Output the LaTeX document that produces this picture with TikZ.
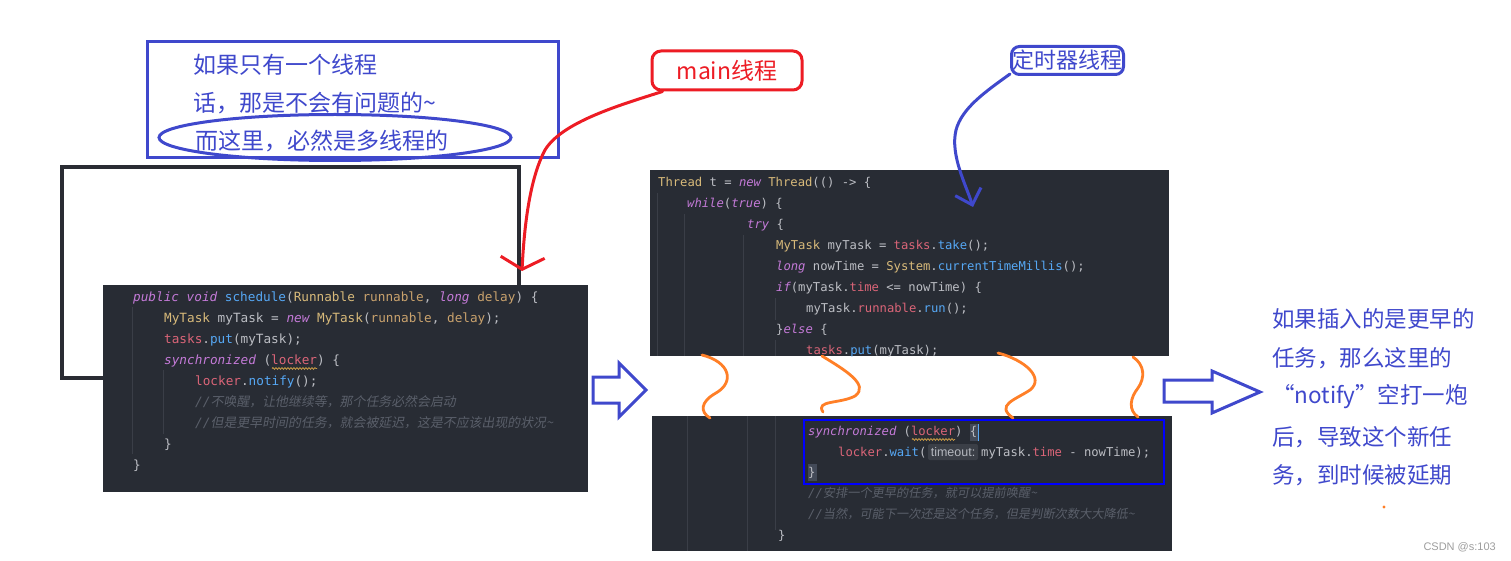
\documentclass[tikz,border=0pt]{standalone}
\usepackage{fontspec}
\usetikzlibrary{arrows.meta,decorations.pathmorphing}
\newfontfamily\cjk{Noto Sans CJK SC}
\newfontfamily\cjkit{Noto Sans CJK SC}[FakeSlant=0.18]
\newfontfamily\codef{DejaVu Sans Mono}
\newfontfamily\hintf{Liberation Sans}
\definecolor{cbg}{HTML}{282C34}
\definecolor{cdef}{HTML}{BCBEC4}
\definecolor{ckw}{HTML}{C47AD8}
\definecolor{cty}{HTML}{D8BA7A}
\definecolor{cpa}{HTML}{C9A26D}
\definecolor{cfd}{HTML}{DB6578}
\definecolor{cmc}{HTML}{56A8F5}
\definecolor{ccm}{HTML}{5A5F6A}
\definecolor{cguide}{HTML}{3A3E47}
\definecolor{nblue}{HTML}{3F48CC}
\definecolor{nred}{HTML}{ED1C24}
\definecolor{norange}{HTML}{FF7F27}
\definecolor{hlblue}{HTML}{0000FF}
\definecolor{cframe}{HTML}{2A2C33}
\definecolor{chint}{HTML}{3B3F47}
\definecolor{chinttxt}{HTML}{B4B7BE}
\definecolor{cbrace}{HTML}{434A58}
\definecolor{cwave}{HTML}{C99A45}
\newcommand\cKw[1]{\textcolor{ckw}{\itshape #1}}
\newcommand\cTy[1]{\textcolor{cty}{#1}}
\newcommand\cPm[1]{\textcolor{cpa}{#1}}
\newcommand\cFd[1]{\textcolor{cfd}{#1}}
\newcommand\cMc[1]{\textcolor{cmc}{#1}}
\newcommand\cCm[1]{\textcolor{ccm}{\itshape //{\cjkit #1}}}
\tikzset{
  codeline/.style={anchor=base west, inner sep=0pt, text=cdef},
  lcode/.style={codeline, font=\codef\fontsize{12.7}{15}\selectfont},
  rcode/.style={codeline, font=\codef\fontsize{12.2}{15}\selectfont},
  codeblock/.style={fill=cbg, draw=none, inner sep=0pt},
  guide/.style={draw=cguide, line width=1pt},
  notetext/.style={anchor=west, inner sep=0pt, text=nblue, font=\cjk\fontsize{23}{28}\selectfont},
  sidetext/.style={anchor=west, inner sep=0pt, text=nblue, font=\cjk\fontsize{22.5}{28}\selectfont},
  bluepen/.style={draw=nblue, line width=3pt},
  redpen/.style={draw=nred, line width=3pt, line cap=round},
  orangepen/.style={draw=norange, line width=2.8pt, line cap=round},
  blockarrow/.style={draw=nblue, line width=3pt, line join=miter},
  wave/.style={draw=cwave, line width=0.8pt, decorate, decoration={snake, amplitude=0.9pt, segment length=3pt}},
}
\begin{document}
\begin{tikzpicture}[x=1pt,y=-1pt]
\fill[white] (0,0) rectangle (1511,561);
\useasboundingbox (0,0) rectangle (1511,561);

% ---------- left note ----------
\node[bluepen, minimum width=411, minimum height=116, inner sep=0pt] (notebox) at (352.5,100) {};
\node[notetext] (n1) at (193,65) {如果只有一个线程};
\node[notetext] (n2) at (193,103) {话，那是不会有问题的\textasciitilde};
\node[notetext] (n3) at (195,141) {而这里，必然是多线程的};
\draw[bluepen] (335,137.5) ellipse [x radius=176, y radius=23];

% ---------- left code ----------
\draw[draw=cframe, line width=3.5pt] (62,167) rectangle (519,378);
\node[codeblock, minimum width=485, minimum height=207] (leftcode) at (345.5,388.5) {};
\draw[guide] (132,307) -- (132,454);
\draw[guide] (163,370) -- (163,434);
\node[lcode] (l1) at (133,301.5) {\cKw{public} \cKw{void} \cMc{schedule}(\cTy{Runnable} \cPm{runnable}, \cKw{long} \cPm{delay}) \{};
\node[lcode] (l2) at (164,322.5) {\cTy{MyTask} myTask = \cKw{new} \cTy{MyTask}(\cPm{runnable}, \cPm{delay});};
\node[lcode] (l3) at (164,343.5) {\cFd{tasks}.\cMc{put}(myTask);};
\node[lcode] (l4) at (164,364.5) {\cKw{synchronized} (\cFd{locker}) \{};
\draw[wave] (272,368.5) -- (317,368.5);
\node[lcode] (l5) at (195,385.5) {\cFd{locker}.\cMc{notify}();};
\node[lcode, font=\codef\fontsize{12.9}{15}\selectfont] (l6) at (195,406.5) {\cCm{不唤醒，让他继续等，那个任务必然会启动}};
\node[lcode, font=\codef\fontsize{12.9}{15}\selectfont] (l7) at (195,427.5) {\cCm{但是更早时间的任务，就会被延迟，这是不应该出现的状况\textasciitilde}};
\node[lcode] (l8) at (164,448.5) {\}};
\node[lcode] (l9) at (133,469.5) {\}};

% ---------- upper right code ----------
\node[codeblock, minimum width=519, minimum height=186] (uppercode) at (909.5,263) {};
\begin{scope}
\clip (650,170) rectangle (1169,356);
\draw[guide] (657,193) -- (657,356);
\draw[guide] (684,214) -- (684,356);
\draw[guide] (743,235) -- (743,356);
\draw[guide] (775,298) -- (775,320);
\draw[guide] (775,340) -- (775,356);
\node[rcode] (u1) at (658,186.5) {\cTy{Thread} t = \cKw{new} \cTy{Thread}(() -> \{};
\node[rcode] (u2) at (687,207.5) {\cKw{while}(\cKw{true}) \{};
\node[rcode] (u3) at (747,228.5) {\cKw{try} \{};
\node[rcode] (u4) at (776,249.5) {\cTy{MyTask} myTask = \cFd{tasks}.\cMc{take}();};
\node[rcode] (u5) at (776,270.5) {\cKw{long} nowTime = \cTy{System}.\cMc{currentTimeMillis}();};
\node[rcode] (u6) at (776,291.5) {\cKw{if}(myTask.\cFd{time} <= nowTime) \{};
\node[rcode] (u7) at (806,312.5) {myTask.\cFd{runnable}.\cMc{run}();};
\node[rcode] (u8) at (776,333.5) {\}\cKw{else} \{};
\node[rcode] (u9) at (806,354.5) {\cFd{tasks}.\cMc{put}(myTask);};
\end{scope}

% ---------- lower right code ----------
\node[codeblock, minimum width=520, minimum height=135] (lowercode) at (912,483.5) {};
\draw[guide] (687,416) -- (687,551);
\draw[guide] (747,416) -- (747,551);
\draw[guide] (775,416) -- (775,530);
\fill[cbrace] (970,424) rectangle (978.5,441);
\fill[cbrace] (808,464) rectangle (816.5,481);
\draw[cmc, line width=1pt] (978.5,424) -- (978.5,441);
\node[rcode] (w1) at (808,435.5) {\cKw{synchronized} (\cFd{locker}) \{};
\draw[wave] (912,439.5) -- (955,439.5);
\node[rcode] (w2a) at (838,456.5) {\cFd{locker}.\cMc{wait}(};
\node[fill=chint, rounded corners=2pt, minimum width=50, minimum height=16, inner sep=0pt, text=chinttxt, font=\hintf\fontsize{12.5}{13}\selectfont] (hint) at (953,452) {timeout:};
\node[rcode] (w2b) at (981,456.5) {myTask.\cFd{time} - nowTime);};
\node[rcode] (w3) at (808,476.5) {\}};
\node[rcode] (w4) at (808,497.5) {\cCm{安排一个更早的任务，就可以提前唤醒\textasciitilde}};
\node[rcode] (w5) at (808,518.5) {\cCm{当然，可能下一次还是这个任务，但是判断次数大大降低\textasciitilde}};
\node[rcode] (w6) at (778,539.5) {\}};
\draw[draw=hlblue, line width=2pt] (804,420) rectangle (1164,484);

% ---------- labels and arrows ----------
\node[draw=nred, line width=3pt, rounded corners=9pt, minimum width=150, minimum height=39, inner sep=0pt, text=nred, font=\cjk\fontsize{23}{26}\selectfont] (mainlbl) at (727,70.5) {main线程};
\coordinate (redtip) at (522,271);
\draw[redpen, -{Straight Barb[length=12pt, width=44pt]}] ([xshift=12pt]mainlbl.south west) .. controls (620,105) and (562,122) .. (545,150) .. controls (529,180) and (524,230) .. (redtip);

\node[draw=nblue, line width=3pt, rounded corners=8pt, minimum width=112, minimum height=28, inner sep=0pt, text=nblue, font=\cjk\fontsize{22}{24}\selectfont] (timerlbl) at (1067.5,60.5) {定时器线程};
\coordinate (bluetip) at (973,207);
\draw[bluepen, line cap=round, -{Straight Barb[length=14pt, width=27pt]}] ([yshift=2pt]timerlbl.south west) .. controls (985,92) and (962,108) .. (956,130) .. controls (950,155) and (966,185) .. (bluetip);

% hollow block arrows
\draw[blockarrow] (593,377) -- (619,377) -- (619,363) -- (646,390) -- (619,417) -- (619,403) -- (593,403) -- cycle;
\draw[blockarrow] (1164,380) -- (1212,380) -- (1212,371) -- (1260,392) -- (1212,413) -- (1212,402) -- (1164,402) -- cycle;

% orange squiggles
\draw[orangepen] (702,355) .. controls (730,362) and (735,382) .. (716,393) .. controls (700,402) and (700,412) .. (710,418);
\draw[orangepen] (822,356) .. controls (845,370) and (870,385) .. (855,396) .. controls (840,404) and (815,400) .. (823,412);
\draw[orangepen] (998,353) .. controls (1025,360) and (1045,378) .. (1030,390) .. controls (1015,400) and (995,405) .. (1013,418);
\draw[orangepen] (1133,357) .. controls (1145,365) and (1145,378) .. (1138,388) .. controls (1130,398) and (1128,410) .. (1138,417);

% right explanation
\node[sidetext] (r1) at (1272,319) {如果插入的是更早的};
\node[sidetext] (r2) at (1272,358) {任务，那么这里的};
\node[sidetext] (r3) at (1272,397) {\makebox[22.5pt][r]{“}notify\makebox[22.5pt][l]{”}空打一炮};
\node[sidetext] (r4) at (1272,437) {后，导致这个新任};
\node[sidetext] (r5) at (1272,475) {务，到时候被延期};
\fill[norange] (1384,507) circle [radius=1.6];
\node[anchor=east, inner sep=0pt, text=black!38, font=\hintf\fontsize{11}{12}\selectfont] (csdn) at (1496,547) {CSDN @s:103};
\end{tikzpicture}
\end{document}
